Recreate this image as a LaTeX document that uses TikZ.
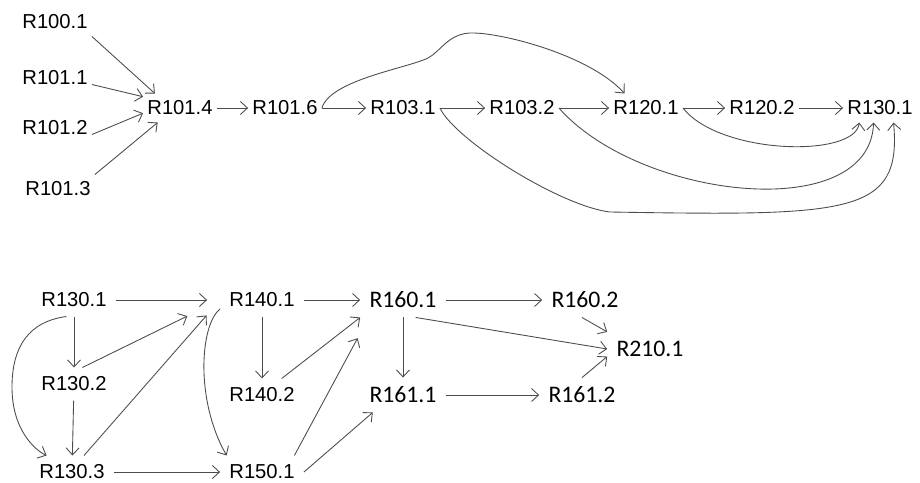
\documentclass[tikz,border=0pt]{standalone}
\usepackage{fontspec}
\setmainfont{Liberation Sans}
\newfontfamily\calfont{Carlito}
\usetikzlibrary{arrows.meta}

\begin{document}
\begin{tikzpicture}[
    >={Straight Barb[length=1.4mm,width=2.6mm]},
    toplabel/.style={inner xsep=0.08cm, inner ysep=0.14cm, text=black, font=\fontsize{11.5}{13}\selectfont},
    botlabel/.style={inner sep=0.18cm, text=black, font=\fontsize{11.5}{13}\selectfont},
    callabel/.style={inner sep=0.18cm, text=black, font=\calfont\fontsize{13.5}{15}\selectfont},
    edgeline/.style={->, draw=black!70, line width=0.5pt}
]

        \useasboundingbox (0,0) rectangle (18.4,-9.64);

        \node [toplabel] (r1001) at (1.10,-0.44) {R100.1};
        \node [toplabel] (r1011) at (1.10,-1.56) {R101.1};
        \node [toplabel] (r1012) at (1.10,-2.56) {R101.2};
        \node [toplabel] (r1013) at (1.16,-3.78) {R101.3};
        \node [toplabel] (r1014) at (3.60,-2.16) {R101.4};
        \node [toplabel] (r1016) at (5.70,-2.16) {R101.6};
        \node [toplabel] (r1031) at (8.06,-2.16) {R103.1};
        \node [toplabel] (r1032) at (10.44,-2.16) {R103.2};
        \node [toplabel] (r1201) at (12.92,-2.16) {R120.1};
        \node [toplabel] (r1202) at (15.24,-2.16) {R120.2};
        \node [toplabel] (r1301top) at (17.60,-2.16) {R130.1};

        \draw [edgeline] (r1001.south east) -- (r1014.150);
        \draw [edgeline] (r1011.-10) -- (r1014.163);
        \draw [edgeline] (r1012.-10) -- (r1014.188);
        \draw [edgeline] (r1013.north east) -- (r1014.213);

        \draw [edgeline] (r1014) -- (r1016);
        \draw [edgeline] (r1016) -- (r1031);
        \draw [edgeline] (r1031) -- (r1032);
        \draw [edgeline] (r1032) -- (r1201);
        \draw [edgeline] (r1201) -- (r1202);
        \draw [edgeline] (r1202) -- (r1301top);

        \draw [edgeline] (r1016.east) .. controls (6.60,-1.60) and (8.16,-1.36) .. (8.56,-1.16)
            .. controls (8.80,-1.04) and (8.96,-0.68) .. (9.40,-0.66)
            .. controls (10.00,-0.64) and (11.80,-1.10) .. (r1201.146);
        \draw [edgeline] (r1201.east) .. controls (14.40,-3.10) and (17.10,-3.16) .. (r1301top.215);
        \draw [edgeline] (r1032.east) .. controls (12.80,-4.00) and (17.40,-4.50) .. (r1301top.246);
        \draw [edgeline] (r1031.east) .. controls (9.10,-2.80) and (11.20,-4.12) .. (12.20,-4.24)
            .. controls (17.00,-4.32) and (18.04,-4.30) .. (r1301top.-47);

        \node [botlabel] (r1301) at (1.48,-6.00) {R130.1};
        \node [botlabel] (r1302) at (1.48,-7.68) {R130.2};
        \node [botlabel] (r1303) at (1.44,-9.44) {R130.3};
        \node [botlabel] (r1401) at (5.24,-6.00) {R140.1};
        \node [botlabel] (r1402) at (5.24,-7.90) {R140.2};
        \node [botlabel] (r1501) at (5.24,-9.44) {R150.1};
        \node [callabel] (r1601) at (8.06,-6.00) {R160.1};
        \node [callabel] (r1602) at (11.70,-6.00) {R160.2};
        \node [callabel] (r1611) at (8.06,-7.90) {R161.1};
        \node [callabel] (r1612) at (11.64,-7.90) {R161.2};
        \node [callabel] (r2101) at (13.00,-6.98) {R210.1};

        \draw [edgeline, shorten >=0.26cm] (r1301) -- (r1401);
        \draw [edgeline] (r1301) -- (r1302);
        \draw [edgeline] (r1302) -- (r1303);
        \draw [edgeline] (r1301.-115) .. controls (0.80,-6.40) and (0.24,-6.70) .. (0.24,-7.74)
            .. controls (0.24,-8.60) and (0.70,-9.00) .. (r1303.147);
        \draw [edgeline, shorten >=0.73cm] (r1302.63) -- (r1401.west);
        \draw [edgeline, shorten >=0.41cm] (r1303.54) -- (r1401.west);
        \draw [edgeline] (r1303) -- (r1501);

        \draw [edgeline] (r1401.192) .. controls (4.00,-6.50) and (3.90,-8.00) .. (r1501.155);
        \draw [edgeline] (r1401) -- (r1402);
        \draw [edgeline] (r1401) -- (r1601);
        \draw [edgeline] (r1402.40) -- (r1601.south west);
        \draw [edgeline, shorten >=0.47cm] (r1501.27) -- (r1601.207);
        \draw [edgeline] (r1501.east) -- (r1611.210);

        \draw [edgeline] (r1601) -- (r1602);
        \draw [edgeline] (r1601) -- (r1611);
        \draw [edgeline] (r1601.-54) -- (r2101.west);
        \draw [edgeline] (r1602.-100) -- (r2101.north west);
        \draw [edgeline] (r1611) -- (r1612);
        \draw [edgeline] (r1612.north) -- (r2101.190);
    \end{tikzpicture}
\end{document}
